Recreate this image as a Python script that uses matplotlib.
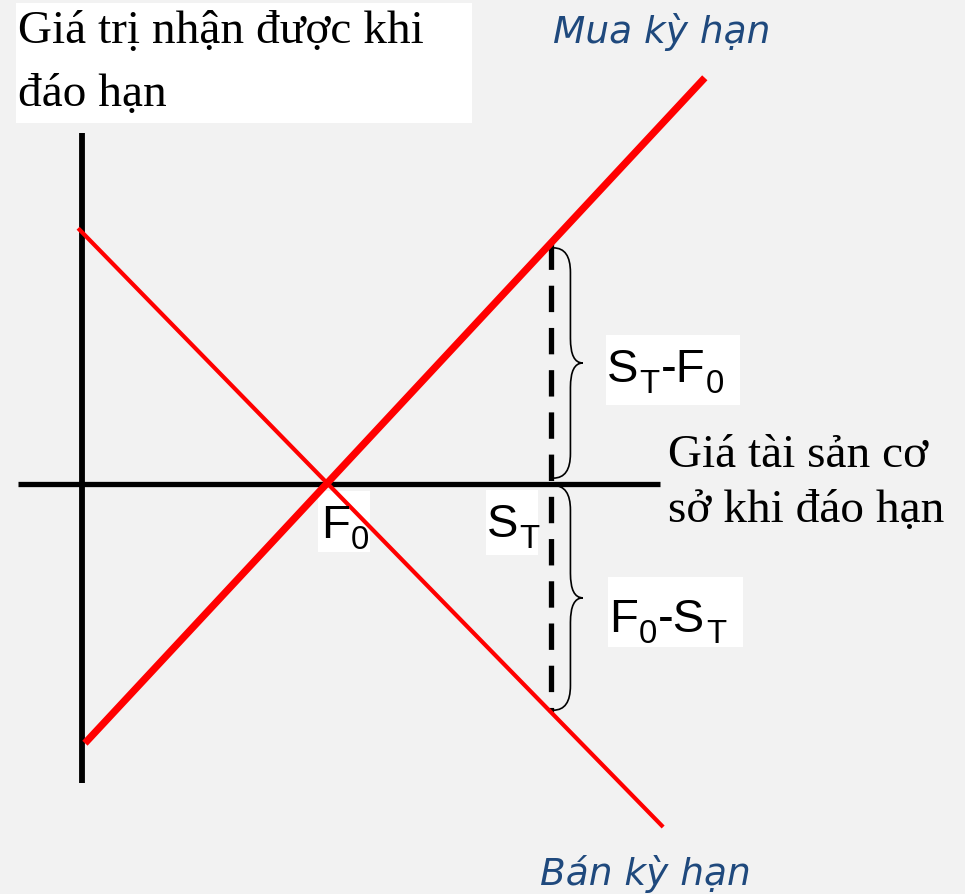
import numpy as np
import matplotlib.pyplot as plt
from matplotlib.path import Path
from matplotlib.patches import PathPatch, Rectangle

# values (price / payoff units)
F0 = 50.0
ST = 95.7
mua_x = [0.6, 127.1]      # long forward
mua_y = [-52.9, 82.9]
ban_x = [-0.8, 118.6]     # short forward
ban_y = [52.2, -70.0]
xaxis_x = [-13.1, 118.0]
yaxis_y = [-61.0, 71.6]

title_lines = ['Giá trị nhận được khi', 'đáo hạn']
xlabel_lines = ['Giá tài sản cơ', 'sở khi đáo hạn']
long_label = 'Mua kỳ hạn'
short_label = 'Bán kỳ hạn'
# (text, is_subscript)
gain_label = [('S', False), ('T', True), ('-F', False), ('0', True)]
loss_label = [('F', False), ('0', True), ('-S', False), ('T', True)]
f0_label = [('F', False), ('0', True)]
st_label = [('S', False), ('T', True)]

W, H = 965, 894
BG = '#f2f2f2'
BLUE = '#1f497d'
UNIT = 4.9  # px per unit


def fxy(px, py):
    return px / W, 1 - py / H


def white_box(x0, y0, x1, y1):
    fx0, fy1 = fxy(x0, y1)
    ax.add_patch(Rectangle((fx0, fy1), (x1 - x0) / W, (y1 - y0) / H,
                           transform=fig.transFigure, fc='white',
                           ec='none', zorder=1))


def brace(x0, y_top, y_bot, width=6.0, r=5.0):
    x1 = x0 + width * 0.58
    x2 = x0 + width
    ym = (y_top + y_bot) / 2
    verts = [(x0, y_top), (x1, y_top), (x1, y_top - r),
             (x1, ym + r), (x1, ym), (x2, ym),
             (x1, ym), (x1, ym - r),
             (x1, y_bot + r), (x1, y_bot), (x0, y_bot)]
    codes = [Path.MOVETO, Path.CURVE3, Path.CURVE3, Path.LINETO,
             Path.CURVE3, Path.CURVE3, Path.CURVE3, Path.CURVE3,
             Path.LINETO, Path.CURVE3, Path.CURVE3]
    ax.add_patch(PathPatch(Path(verts, codes), fc='none', ec='black',
                           lw=1.2, zorder=4))


def sub_text(px, py, pieces, size=34, scale=0.7, drop=11):
    # letters with subscripts, baseline at py
    r = fig.canvas.get_renderer()
    x = px
    for s, is_sub in pieces:
        t = fig.text(*fxy(x, py + (drop if is_sub else 0)), s,
                     family='Liberation Sans',
                     fontsize=size * (scale if is_sub else 1),
                     va='baseline', ha='left', zorder=6)
        x += t.get_window_extent(r).width + 1


fig = plt.figure(figsize=(W / 100, H / 100), dpi=100, facecolor=BG)
ax = fig.add_axes([0, 0, 1, 1])
ax.set_facecolor('none')
ax.set_xlim(-82 / UNIT, (W - 82) / UNIT)
ax.set_ylim(-(H - 484) / UNIT, 484 / UNIT)
ax.axis('off')

# axes of the diagram
ax.plot(xaxis_x, [0, 0], color='black', lw=3.8, solid_capstyle='butt', zorder=2)
ax.plot([0, 0], yaxis_y, color='black', lw=4.2, solid_capstyle='butt', zorder=2)

# payoff lines
ax.plot(mua_x, mua_y, color='#ff0000', lw=5.2, solid_capstyle='butt', zorder=5)
ax.plot(ban_x, ban_y, color='#ff0000', lw=3.0, solid_capstyle='butt', zorder=5)

# dashed line at S_T
y_hi = np.interp(ST, mua_x, mua_y)
y_lo = np.interp(ST, ban_x, ban_y)
ax.plot([ST, ST], [y_hi, y_lo], color='black', lw=3.8, dashes=(5, 3), zorder=3)

brace(ST + 0.5, y_hi - 1.0, 1.2)
brace(ST + 0.5, -0.3, y_lo + 0.4)

# text boxes
white_box(16, 3, 472, 123)
white_box(606, 335, 740, 405)
white_box(608, 577, 743, 647)
white_box(318, 491, 370, 552)
white_box(486, 490, 538, 555)

serif = dict(family='Liberation Serif', fontsize=34, color='black',
             va='baseline', ha='left', zorder=6)
fig.text(*fxy(18, 43), title_lines[0], **serif)
fig.text(*fxy(18, 106), title_lines[1], **serif)
fig.text(*fxy(668, 467), xlabel_lines[0], **serif)
fig.text(*fxy(668, 522), xlabel_lines[1], **serif)

blue = dict(family='DejaVu Sans', style='oblique', fontsize=27, color=BLUE,
            va='baseline', ha='left', zorder=6)
fig.text(*fxy(553, 43), long_label, **blue)
fig.text(*fxy(540, 885), short_label, **blue)

sub_text(607, 382, gain_label)
sub_text(609, 632, loss_label)
sub_text(321, 538, f0_label)
sub_text(487, 537, st_label)

fig.savefig('out.png', dpi=100, facecolor=BG)
